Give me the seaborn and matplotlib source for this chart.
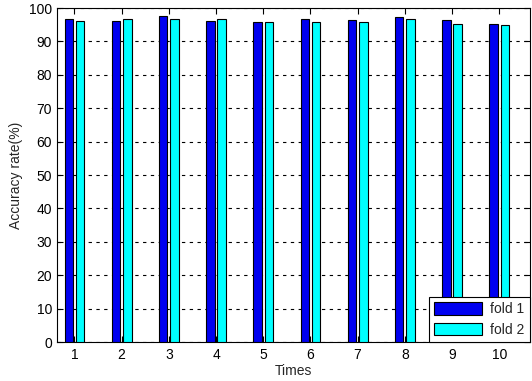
import matplotlib
matplotlib.use("Agg")
import matplotlib.pyplot as plt
import seaborn as sns
import pandas as pd

times = [1, 2, 3, 4, 5, 6, 7, 8, 9, 10]
fold1 = [96.7, 96.1, 97.7, 96.1, 95.8, 96.7, 96.4, 97.3, 96.4, 95.2]
fold2 = [96.0, 96.7, 96.7, 96.7, 95.8, 95.8, 95.8, 96.7, 95.2, 94.9]
folds = ["fold 1", "fold 2"]
y_ticks = list(range(0, 101, 10))

df = pd.DataFrame({
    "Times": times * 2,
    "acc": fold1 + fold2,
    "fold": [folds[0]] * len(times) + [folds[1]] * len(times),
})

sns.set_style("white")
plt.rcParams["font.family"] = ["Liberation Sans", "DejaVu Sans"]
plt.rcParams["font.size"] = 10

fig = plt.figure(figsize=(5.32, 3.81), dpi=100)
ax = fig.add_axes([0.108, 0.102, 0.888, 0.877])

sns.barplot(data=df, x="Times", y="acc", hue="fold", ax=ax,
            palette=["#0000f0", "#00ffff"], width=0.48, gap=0.25,
            edgecolor="black", linewidth=0.8, saturation=1, zorder=3)

ax.set_xlim(-0.36, 9.65)
ax.set_ylim(0, 100)
ax.set_yticks(y_ticks)
ax.set_xticks(range(len(times)))
ax.set_xticklabels([str(t) for t in times])
ax.yaxis.grid(True, linestyle=(0, (3, 4)), color="black", linewidth=0.8, zorder=0)
ax.xaxis.grid(False)
ax.set_axisbelow(True)
ax.tick_params(direction="in", length=4, width=0.8, top=True, right=True,
               bottom=True, left=True, labelsize=10, colors="black", pad=4)
for s in ax.spines.values():
    s.set_color("black")
    s.set_linewidth(0.8)
ax.set_xlabel("Times", fontsize=10, labelpad=2)
ax.set_ylabel("Accuracy rate(%)", fontsize=10, labelpad=4)

leg = ax.legend(loc="lower right", borderaxespad=0, handlelength=3.4,
                handleheight=1.0, fontsize=10, frameon=True, fancybox=False,
                edgecolor="black", framealpha=1, borderpad=0.4,
                labelspacing=0.45, handletextpad=0.6)
leg.get_frame().set_linewidth(0.8)

fig.savefig("out.png", dpi=100)
